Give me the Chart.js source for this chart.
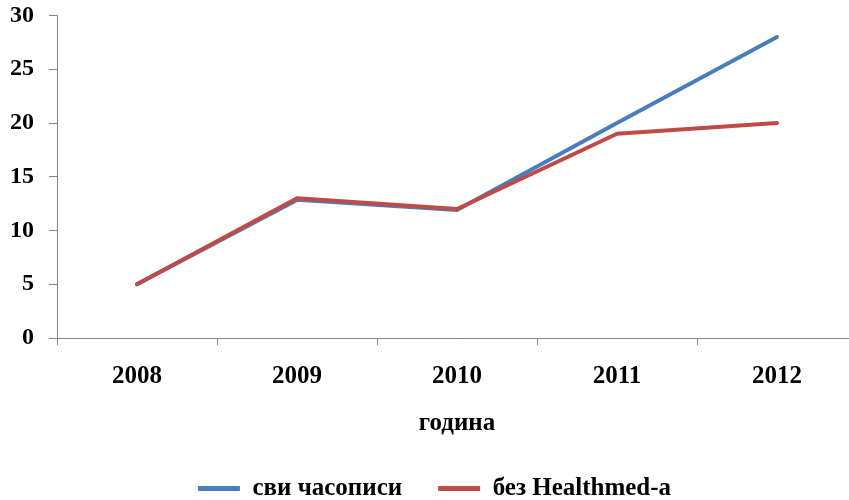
<!DOCTYPE html>
<html>
<head>
<meta charset="utf-8">
<script src="https://cdn.jsdelivr.net/npm/chart.js@4.4.1/dist/chart.umd.min.js"></script>
<style>
  html, body { margin: 0; padding: 0; background: #ffffff; }
  #wrap { width: 849px; height: 500px; overflow: hidden; position: relative; }
  #chart { display: block; }
</style>
</head>
<body>
<div id="wrap"><canvas id="chart" width="857" height="512"></canvas></div>
<script>
const years = ['2008', '2009', '2010', '2011', '2012'];
const allJournals = [5, 12.85, 11.9, 20, 28];
const withoutHealthmed = [5, 13, 12, 19, 20];
const yTicks = { min: 0, max: 30, step: 5 };

const FONT = 'Liberation Serif, Times New Roman, serif';
const axisGrey = '#868686';

// nudge the legend a few px right, like the original
const legendShift = {
  id: 'legendShift',
  afterLayout(chart) {
    chart.legend.left += 6;
    chart.legend.right += 6;
  }
};

new Chart(document.getElementById('chart'), {
  type: 'line',
  data: {
    labels: years,
    datasets: [
      {
        label: 'сви часописи',
        data: allJournals,
        borderColor: '#4a7ebb',
        backgroundColor: '#4a7ebb',
        order: 1
      },
      {
        label: 'без Healthmed-a',
        data: withoutHealthmed,
        borderColor: '#be4b48',
        backgroundColor: '#be4b48',
        order: 0
      }
    ]
  },
  options: {
    responsive: false,
    animation: false,
    layout: { padding: { top: 0, right: 0, bottom: 1, left: 0 } },
    elements: {
      line: { borderWidth: 4, tension: 0, borderJoinStyle: 'round', borderCapStyle: 'round' },
      point: { radius: 0, hoverRadius: 0 }
    },
    plugins: {
      tooltip: { enabled: false },
      legend: {
        position: 'bottom',
        labels: {
          color: '#000000',
          font: { family: FONT, size: 25, weight: 'bold' },
          boxWidth: 42,
          boxHeight: 5,
          padding: 36,
          sort: (a, b) => a.datasetIndex - b.datasetIndex,
          generateLabels: chart => Chart.defaults.plugins.legend.labels.generateLabels(chart)
            .map(l => ({ ...l, lineWidth: 0 }))
        }
      }
    },
    scales: {
      x: {
        offset: true,
        grid: { offset: true, drawOnChartArea: false, color: axisGrey, tickLength: 7 },
        border: { color: axisGrey, width: 1 },
        ticks: { color: '#000000', padding: 17, font: { family: FONT, size: 25, weight: 'bold' } },
        title: {
          display: true,
          text: 'година',
          color: '#000000',
          font: { family: FONT, size: 25, weight: 'bold' },
          padding: { top: 0, bottom: 1 }
        }
      },
      y: {
        min: yTicks.min,
        max: yTicks.max,
        afterFit: scale => { scale.width = 57; },
        grid: { drawOnChartArea: false, color: axisGrey, tickLength: 8 },
        border: { color: axisGrey, width: 1 },
        ticks: {
          stepSize: yTicks.step,
          color: '#000000',
          padding: 15,
          font: { family: FONT, size: 24, weight: 'bold', lineHeight: '1px' }
        }
      }
    }
  },
  plugins: [legendShift]
});
</script>
</body>
</html>
